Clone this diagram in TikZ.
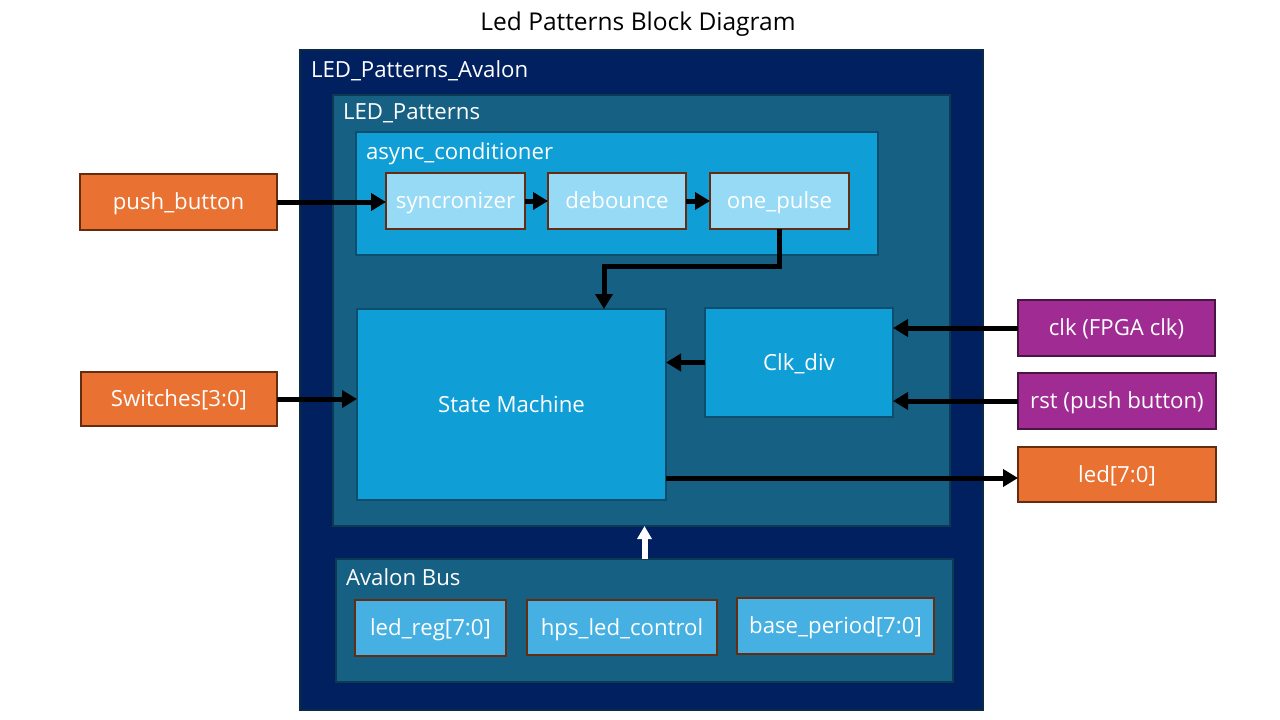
\documentclass[tikz,border=0pt]{standalone}
\usepackage{fontspec}
\setmainfont{Open Sans}
\usetikzlibrary{arrows.meta}
\definecolor{navy}{HTML}{002060}
\definecolor{navyb}{HTML}{0B2A45}
\definecolor{teal}{HTML}{166083}
\definecolor{tealb}{HTML}{0C3A52}
\definecolor{midb}{HTML}{0F9ED5}
\definecolor{midbb}{HTML}{0B4E6E}
\definecolor{lightb}{HTML}{96DAF5}
\definecolor{regb}{HTML}{45B0E1}
\definecolor{orng}{HTML}{E97132}
\definecolor{brwn}{HTML}{652C0F}
\definecolor{purp}{HTML}{A02B93}
\definecolor{purpb}{HTML}{4A1445}
\tikzset{
  box/.style={draw, line width=1.5pt, inner sep=0pt, outer sep=0pt, text=white, align=center, text height=15.5pt, text depth=0pt},
  lbl/.style={inner sep=0pt, outer sep=0pt, text=white, anchor=west, text height=15.5pt, text depth=0pt},
  arr/.style={line width=5pt, -{Triangle[length=15pt,width=17pt]}},
  warr/.style={line width=6pt, white, -{Triangle[length=13pt,width=14pt]}},
}
\begin{document}
\begin{tikzpicture}[x=1pt,y=-1pt,font=\fontsize{22.2}{26}\selectfont]
\useasboundingbox (0,0) rectangle (1280,720);
\fill[white] (0,0) rectangle (1280,720);
\node[font=\fontsize{24.5}{28}\selectfont] (title) at (638,24) {Led Patterns Block Diagram};
% containers
\node[box, fill=navy, draw=navyb, minimum width=683pt, minimum height=660pt] (outer) at (641.5,380) {};
\node[lbl] (tA) at (311,70) {LED\_Patterns\_Avalon};
\node[box, fill=teal, draw=tealb, minimum width=617pt, minimum height=431pt] (ledp) at (641.5,310.5) {};
\node[lbl] (tL) at (343,112) {LED\_Patterns};
\node[box, fill=midb, draw=midbb, minimum width=522pt, minimum height=123pt] (async) at (617,193.5) {};
\node[lbl] (tC) at (366,152) {async\_conditioner};
% async blocks
\node[box, fill=lightb, draw=brwn, minimum width=139pt, minimum height=56pt] (sync) at (455.5,201) {syncronizer};
\node[box, fill=lightb, draw=brwn, minimum width=138pt, minimum height=56pt] (deb) at (617,201) {debounce};
\node[box, fill=lightb, draw=brwn, minimum width=139pt, minimum height=56pt] (op) at (779.5,201) {one\_pulse};
% main blocks
\node[box, fill=midb, draw=midbb, minimum width=309pt, minimum height=191pt] (sm) at (511.5,404.5) {State Machine};
\node[box, fill=midb, draw=midbb, minimum width=188pt, minimum height=109pt] (cd) at (799,362.5) {Clk\_div};
% avalon
\node[box, fill=teal, draw=tealb, minimum width=617pt, minimum height=123pt] (avb) at (644.5,620.5) {};
\node[lbl] (tB) at (346,578) {Avalon Bus};
\node[box, fill=regb, draw=brwn, minimum width=151pt, minimum height=56pt] (lreg) at (430.5,628) {led\_reg[7:0]};
\node[box, fill=regb, draw=brwn, minimum width=190pt, minimum height=55pt] (hps) at (622,627.5) {hps\_led\_control};
\node[box, fill=regb, draw=brwn, minimum width=197pt, minimum height=56pt] (bp) at (835.5,626) {base\_period[7:0]};
% external
\node[box, fill=orng, draw=brwn, minimum width=197pt, minimum height=56pt] (pb) at (178.5,202) {push\_button};
\node[box, fill=orng, draw=brwn, minimum width=196pt, minimum height=54pt] (sw) at (179,399) {Switches[3:0]};
\node[box, fill=purp, draw=purpb, minimum width=197pt, minimum height=56pt] (clk) at (1116.5,328) {clk (FPGA clk)};
\node[box, fill=purp, draw=purpb, minimum width=198pt, minimum height=56pt] (rst) at (1117,401) {rst (push button)};
\node[box, fill=orng, draw=brwn, minimum width=198pt, minimum height=55pt] (led) at (1117,474.5) {led[7:0]};
% connectors
\draw[arr] (pb.east) -- (pb.east -| sync.west);
\draw[arr] (sync.east) -- (deb.west);
\draw[arr] (deb.east) -- (op.west);
\draw[arr] (op.south) -- ++(0,37) -| ([xshift=92.5pt]sm.north);
\draw[arr] (sw.east) -- (sw.east -| sm.west);
\draw[arr] (clk.west) -- (clk.west -| cd.east);
\draw[arr] (rst.west) -- (rst.west -| cd.east);
\draw[arr] (cd.west) -- (cd.west -| sm.east);
\draw[arr] ([yshift=-3.5pt]sm.east |- led.west) -- ([yshift=-3.5pt]led.west);
\draw[warr] (avb.north) -- (avb.north |- ledp.south);
\end{tikzpicture}
\end{document}
